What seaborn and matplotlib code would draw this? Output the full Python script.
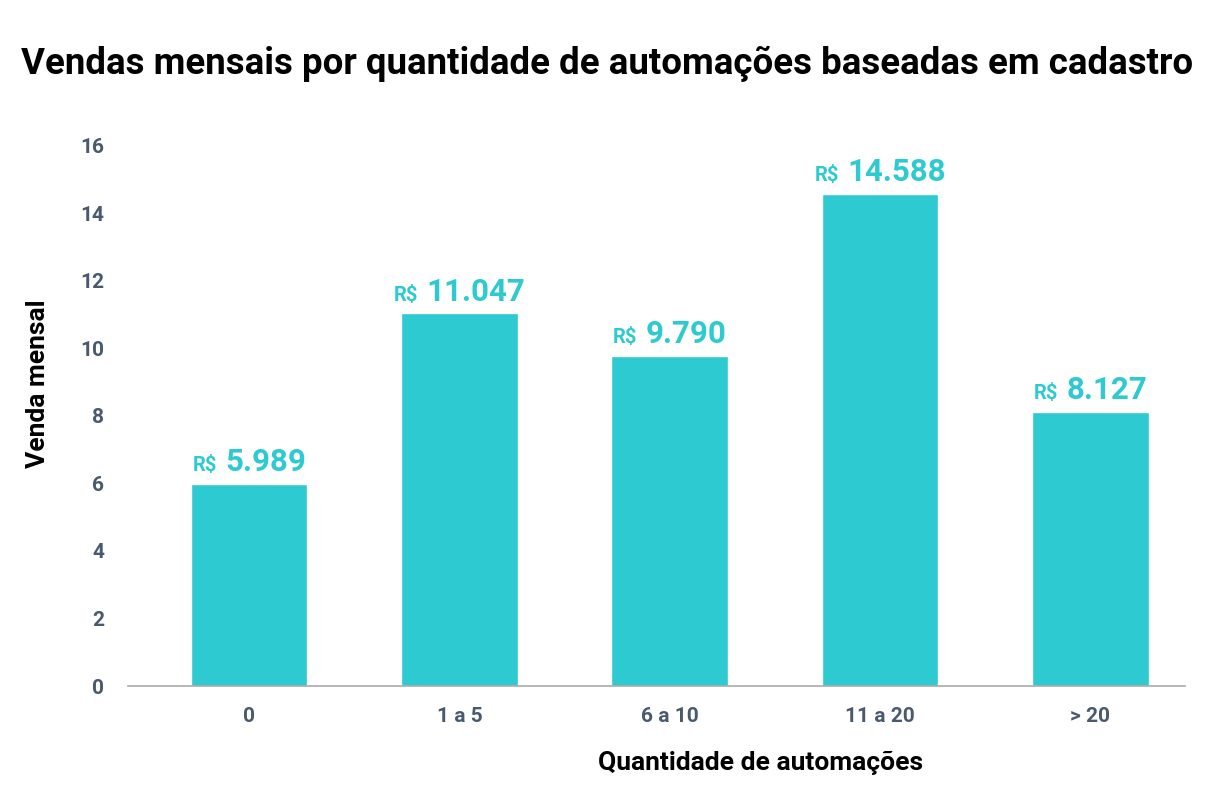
import matplotlib
matplotlib.use("Agg")
import matplotlib.pyplot as plt
import seaborn as sns
import pandas as pd

categories = ["0", "1 a 5", "6 a 10", "11 a 20", "> 20"]
values = [5.989, 11.047, 9.790, 14.588, 8.127]
value_labels = ["5.989", "11.047", "9.790", "14.588", "8.127"]
y_ticks = [0, 2, 4, 6, 8, 10, 12, 14, 16]

sns.set_theme(style="white")
plt.rcParams["font.family"] = ["Roboto", "DejaVu Sans"]

df = pd.DataFrame({"cat": categories, "val": values})

fig = plt.figure(figsize=(12.14, 7.93), dpi=100)
ax = fig.add_axes([0.1054, 0.1349, 0.8706, 0.6811])

bar_color = "#2ECAD2"
tick_color = "#4A5A6E"
sns.barplot(data=df, x="cat", y="val", color=bar_color, width=0.555, ax=ax,
            saturation=1)

ax.set_ylim(0, 16)
ax.set_xlim(-0.576, 4.45)
ax.set_yticks(y_ticks)
ax.set_yticklabels([str(t) for t in y_ticks])
ax.tick_params(axis="both", length=0, labelsize=15, labelcolor=tick_color)
ax.tick_params(axis="y", pad=17)
ax.tick_params(axis="x", pad=15)
for lab in ax.get_xticklabels() + ax.get_yticklabels():
    lab.set_fontweight("bold")

for s in ["top", "right", "left"]:
    ax.spines[s].set_visible(False)
ax.spines["bottom"].set_color("#AAAAAA")
ax.spines["bottom"].set_linewidth(1.2)

ax.set_xlabel("Quantidade de automações", fontsize=19, fontweight="bold",
              color="black")
ax.set_ylabel("Venda mensal", fontsize=19, fontweight="bold", color="black")
ax.xaxis.set_label_coords(0.599, -0.12)
ax.yaxis.set_label_coords(-0.074, 0.56)

fig.text(0.5, 0.919, "Vendas mensais por quantidade de automações baseadas em cadastro",
         ha="center", va="center", fontsize=26.4, fontweight="bold", color="black")

# value labels: small "R$" + large number, centered as a group
fig.canvas.draw()
renderer = fig.canvas.get_renderer()
for i, (v, lbl) in enumerate(zip(values, value_labels)):
    t_rs = ax.annotate("R$", (i, v), xytext=(0, 9), textcoords="offset points",
                       ha="left", va="baseline", fontsize=14.5, fontweight="bold",
                       color=bar_color)
    t_num = ax.annotate(lbl, (i, v), xytext=(0, 9), textcoords="offset points",
                        ha="left", va="baseline", fontsize=22.5, fontweight="bold",
                        color=bar_color)
    w_rs = t_rs.get_window_extent(renderer).width * 72 / fig.dpi
    w_num = t_num.get_window_extent(renderer).width * 72 / fig.dpi
    gap = 6
    total = w_rs + gap + w_num
    t_rs.set_position((-total / 2, 9))
    t_num.set_position((-total / 2 + w_rs + gap, 9))

fig.savefig("out.png", dpi=100, facecolor="white")
